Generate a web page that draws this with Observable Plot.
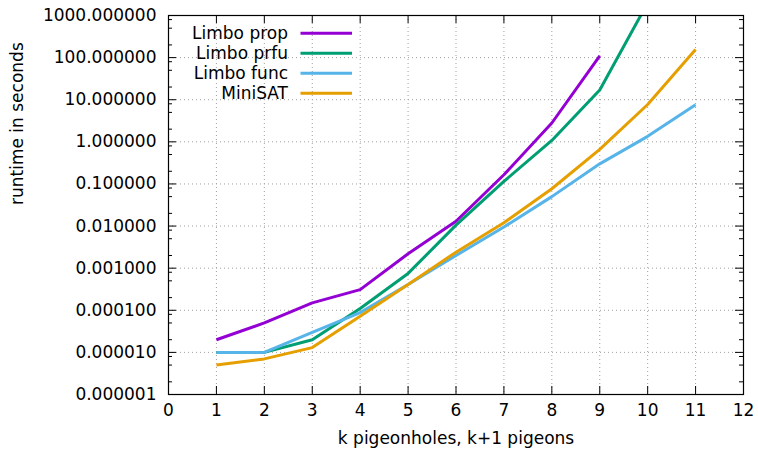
<!DOCTYPE html>
<html>
<head>
<meta charset="utf-8">
<script src="https://cdn.jsdelivr.net/npm/d3@7"></script>
<script src="https://cdn.jsdelivr.net/npm/@observablehq/plot@0.6"></script>
<style>
  html, body { margin: 0; padding: 0; background: #fff; }
  #wrap { position: relative; width: 758px; height: 454px; font-family: "DejaVu Sans", sans-serif; }
  #legend { position: absolute; left: 0; top: 0; pointer-events: none; }
</style>
</head>
<body>
<div id="wrap"></div>
<script>
// ---- data ----
const ks = [1, 2, 3, 4, 5, 6, 7, 8, 9, 10, 11];
const limboProp = [2.0e-5, 5.0e-5, 1.5e-4, 3.1e-4, 2.2e-3, 0.013, 0.165, 2.8, 110];
const limboPrfu = [1.0e-5, 1.0e-5, 2.0e-5, 1.1e-4, 7.5e-4, 0.0105, 0.115, 1.08, 17, 2000];
const limboFunc = [1.0e-5, 1.0e-5, 3.0e-5, 8.8e-5, 4.1e-4, 2.0e-3, 0.0095, 0.05, 0.30, 1.35, 7.6];
const miniSat   = [5.0e-6, 7.0e-6, 1.3e-5, 7.2e-5, 4.1e-4, 2.4e-3, 0.012, 0.077, 0.66, 7.7, 155];

const seriesNames = ["Limbo prop", "Limbo prfu", "Limbo func", "MiniSAT"];
const seriesValues = [limboProp, limboPrfu, limboFunc, miniSat];
const seriesColors = ["#9400d3", "#009e73", "#56b4e9", "#e69f00"];

const xTicks = [0, 1, 2, 3, 4, 5, 6, 7, 8, 9, 10, 11, 12];
const yTicks = [1e-6, 1e-5, 1e-4, 1e-3, 1e-2, 1e-1, 1, 10, 100, 1000];
const minorMultipliers = [2, 5, 8];
const yMinor = yTicks.slice(0, -1).flatMap(d => minorMultipliers.map(m => d * m));

const xLabel = "k pigeonholes, k+1 pigeons";
const yLabel = "runtime in seconds";

// ---- build rows ----
const rows = seriesNames.flatMap((name, i) =>
  seriesValues[i].map((v, j) => ({series: name, k: ks[j], t: v})));

const W = 758, H = 454;
const mL = 168, mR = 15, mT = 15, mB = 60;
const pw = W - mL - mR, ph = H - mT - mB;
const font = 17;
const fmt = d3.format(".6f");

const lineMarks = seriesNames.map((name, i) =>
  Plot.line(rows.filter(r => r.series === name), {
    x: "k", y: "t", stroke: seriesColors[i], strokeWidth: 3,
    strokeLinejoin: "round", strokeLinecap: "butt", clip: true
  }));

const chart = Plot.plot({
  width: W, height: H,
  marginLeft: mL, marginRight: mR, marginTop: mT, marginBottom: mB,
  style: {fontFamily: "DejaVu Sans, sans-serif", fontSize: font + "px", background: "#fff", overflow: "visible"},
  x: {domain: [0, 12], axis: null},
  y: {type: "log", domain: [1e-6, 1000], axis: null},
  marks: [
    // dotted grid
    Plot.ruleX(xTicks.slice(1, -1), {x: d => d, stroke: "#a0a0a0", strokeWidth: 1, strokeDasharray: "1,3"}),
    Plot.ruleY(yTicks.slice(1, -1), {y: d => d, stroke: "#a0a0a0", strokeWidth: 1, strokeDasharray: "1,3"}),
    // inward major ticks on all four sides
    Plot.ruleX(xTicks, {x: d => d, insetTop: ph - 8, stroke: "#000"}),
    Plot.ruleX(xTicks, {x: d => d, insetBottom: ph - 8, stroke: "#000"}),
    Plot.ruleY(yTicks, {y: d => d, insetRight: pw - 8, stroke: "#000"}),
    Plot.ruleY(yTicks, {y: d => d, insetLeft: pw - 8, stroke: "#000"}),
    // minor log ticks
    Plot.ruleY(yMinor, {y: d => d, insetRight: pw - 4, stroke: "#000"}),
    Plot.ruleY(yMinor, {y: d => d, insetLeft: pw - 4, stroke: "#000"}),
    // tick labels
    Plot.text(xTicks, {x: d => d, frameAnchor: "bottom", dy: 21, text: d => String(d), fill: "#000"}),
    Plot.text(yTicks, {y: d => d, frameAnchor: "left", dx: -12, textAnchor: "end", text: d => fmt(d), fill: "#000"}),
    // axis titles
    Plot.text([xLabel], {frameAnchor: "bottom", dy: 49, text: d => d, fill: "#000"}),
    Plot.text([yLabel], {frameAnchor: "left", dx: -151, rotate: -90, text: d => d, fill: "#000"}),
    // series
    ...lineMarks,
    Plot.frame({stroke: "#000", strokeWidth: 1.2})
  ]
});

const wrap = document.getElementById("wrap");
wrap.appendChild(chart);

// ---- legend (top-left inside the plot, gnuplot style) ----
const leg = d3.select(wrap).append("svg")
  .attr("id", "legend").attr("width", W).attr("height", H);
seriesNames.forEach((name, i) => {
  const cy = 33.3 + 20 * i;
  leg.append("text")
    .attr("x", 288).attr("y", cy).attr("dy", "0.35em")
    .attr("text-anchor", "end")
    .attr("font-family", "DejaVu Sans, sans-serif")
    .attr("font-size", font)
    .attr("fill", "#000")
    .text(name);
  leg.append("line")
    .attr("x1", 300.5).attr("x2", 352)
    .attr("y1", cy).attr("y2", cy)
    .attr("stroke", seriesColors[i]).attr("stroke-width", 3);
});
</script>
</body>
</html>
